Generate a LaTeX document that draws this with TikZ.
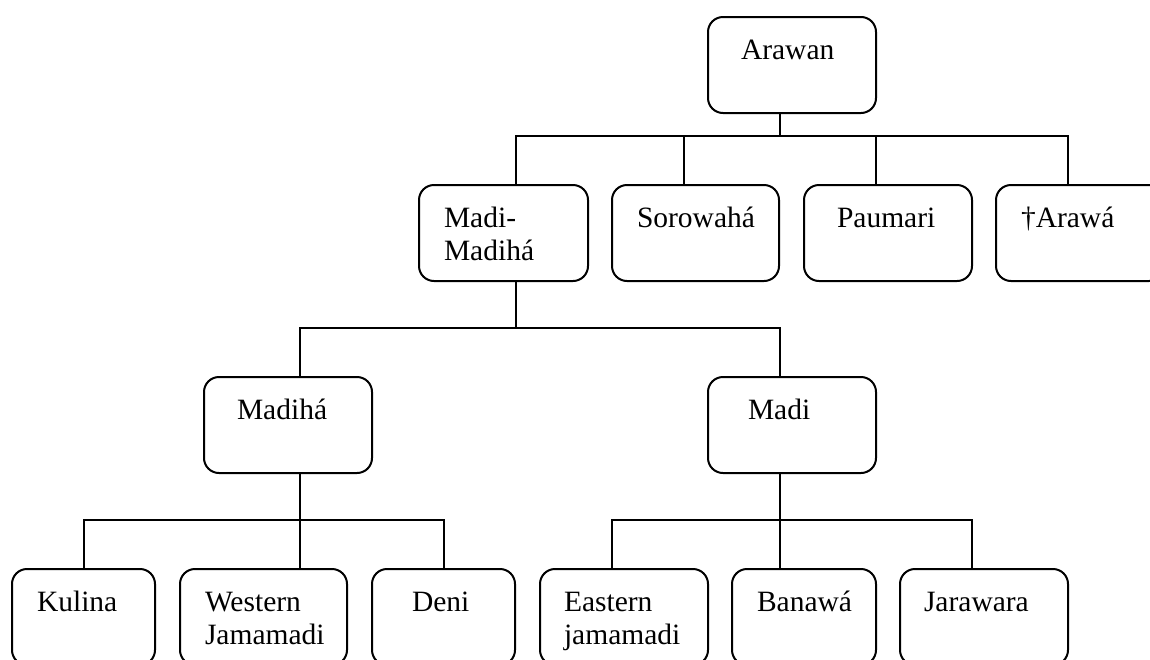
\documentclass[tikz,border=0pt]{standalone}
\usepackage{fontspec}
\setmainfont{Liberation Serif}
\newcommand{\boxtext}[3]{\parbox[c][96pt][t]{#1}{\raggedright\leftskip=#2\relax\rule{0pt}{42pt}#3}}
\begin{document}
\begin{tikzpicture}[x=1pt,y=-1pt,
  tbox/.style={draw, line width=2pt, rounded corners=15pt, inner sep=0pt, anchor=north west,
    font=\fontsize{29.5}{33}\selectfont},
  conn/.style={draw, line width=2pt}]
\useasboundingbox (0,0) rectangle (1150,659);
\clip (0,0) rectangle (1150,659);
\fill[white] (0,0) rectangle (1150,659);
% level 0
\node[tbox] (arawan) at (707,16) {\boxtext{168pt}{33pt}{Arawan}};
% level 1
\node[tbox] (mm) at (418,184) {\boxtext{169pt}{25pt}{Madi-\\Madihá}};
\node[tbox] (soro) at (611,184) {\boxtext{167pt}{25pt}{Sorowahá}};
\node[tbox] (pau) at (803,184) {\boxtext{168pt}{33pt}{Paumari}};
\node[tbox] (arawa) at (995,184) {\boxtext{168pt}{25pt}{†Arawá}};
% level 2
\node[tbox] (madiha) at (203,376) {\boxtext{168pt}{33pt}{Madihá}};
\node[tbox] (madi) at (707,376) {\boxtext{168pt}{40pt}{Madi}};
% level 3
\node[tbox] (kulina) at (11,568) {\boxtext{143pt}{25pt}{Kulina}};
\node[tbox] (western) at (179,568) {\boxtext{167pt}{25pt}{Western\\Jamamadi}};
\node[tbox] (deni) at (371,568) {\boxtext{143pt}{40pt}{Deni}};
\node[tbox] (eastern) at (539,568) {\boxtext{168pt}{24pt}{Eastern\\jamamadi}};
\node[tbox] (banawa) at (731,568) {\boxtext{144pt}{25pt}{Banawá}};
\node[tbox] (jara) at (899,568) {\boxtext{168pt}{24pt}{Jarawara}};
% bar levels
\coordinate (b1) at (0,136);
\coordinate (b2) at (0,328);
\coordinate (b3) at (0,520);
% stems
\coordinate (s0) at ([xshift=-12pt]arawan.south);
\coordinate (s1) at ([xshift=12.5pt]mm.south);
\coordinate (s2) at ([xshift=11.5pt]madiha.south);
\coordinate (s3) at ([xshift=-12pt]madi.south);
% tree from Arawan
\draw[conn] (s0) -- (s0 |- b1) -| ([xshift=12.5pt]mm.north);
\draw[conn] (s0 |- b1) -| ([xshift=-12pt]soro.north);
\draw[conn] (s0 |- b1) -| ([xshift=-12pt]pau.north);
\draw[conn] (s0 |- b1) -| ([xshift=-12pt]arawa.north);
% tree from Madi-Madiha
\draw[conn] (s1) -- (s1 |- b2) -| ([xshift=11.5pt]madiha.north);
\draw[conn] (s1 |- b2) -| ([xshift=-12pt]madi.north);
% tree from Madiha
\draw[conn] (s2) -- (s2 |- b3) -| ([xshift=0.5pt]kulina.north);
\draw[conn] (s2 |- b3) -| ([xshift=36pt]western.north);
\draw[conn] (s2 |- b3) -| ([xshift=0.5pt]deni.north);
% tree from Madi
\draw[conn] (s3) -- (s3 |- b3) -| ([xshift=-12pt]eastern.north);
\draw[conn] (s3 |- b3) -| ([xshift=-24pt]banawa.north);
\draw[conn] (s3 |- b3) -| ([xshift=-12pt]jara.north);
\end{tikzpicture}
\end{document}
